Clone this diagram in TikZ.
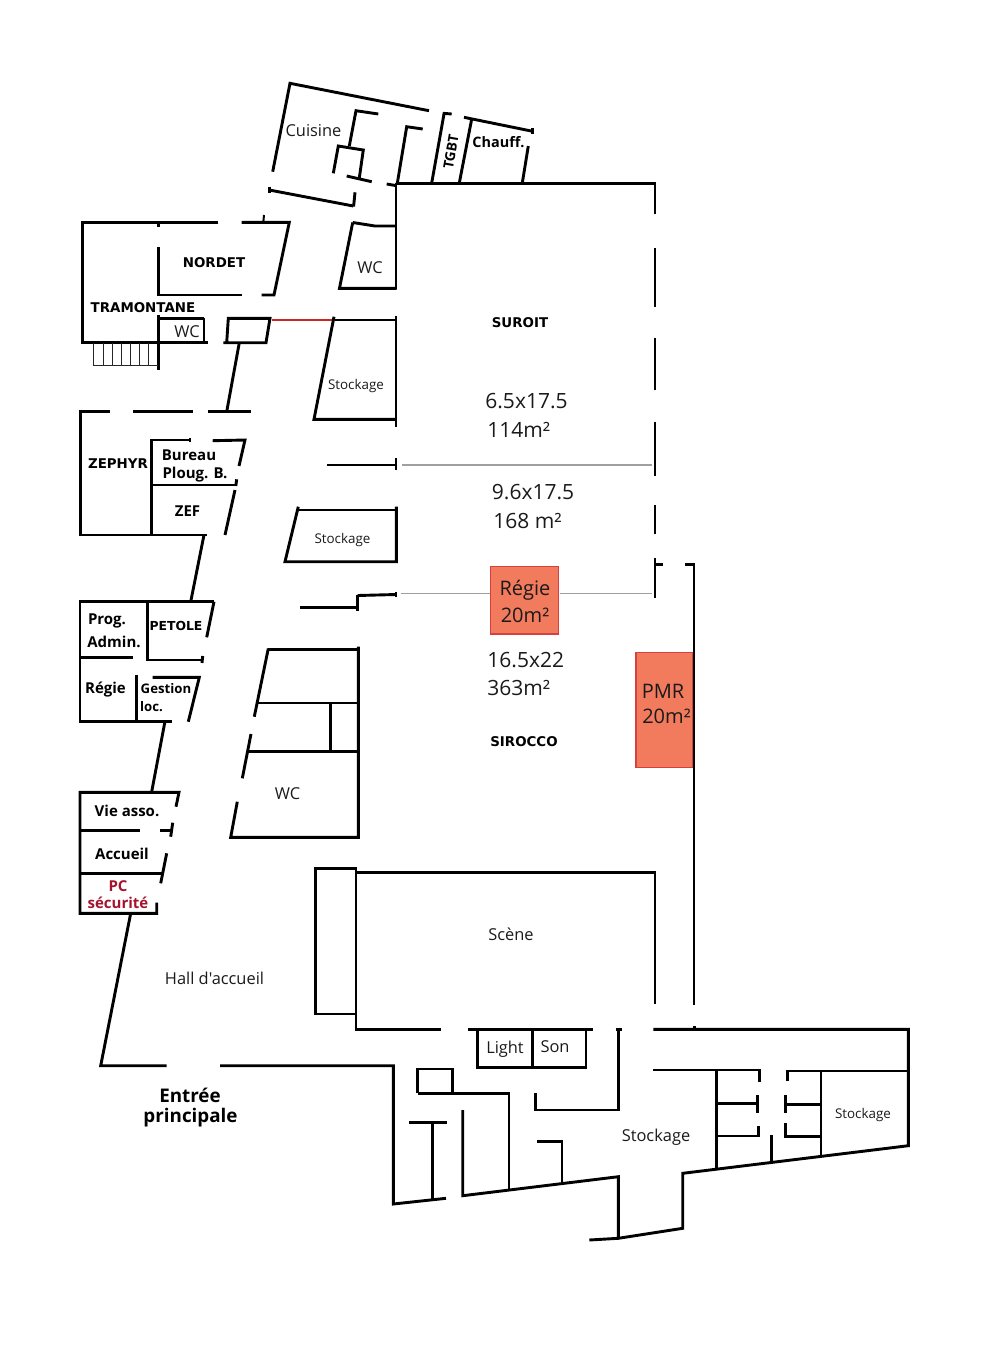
\documentclass[tikz,border=0pt]{standalone}
\usepackage{fontspec}
\setmainfont{Open Sans}
\newfontfamily\plainfont{Open Sans}
\newfontfamily\capsfont{DejaVu Sans}
\definecolor{salmon}{HTML}{F27B5E}
\definecolor{salmonedge}{HTML}{D8403F}
\definecolor{crimson}{HTML}{A5142E}
\definecolor{inkdark}{HTML}{1A1A1A}
\tikzset{
  wall/.style={line width=1.45pt,line cap=butt,line join=miter,black},
  thinwall/.style={line width=1pt,line cap=butt,line join=miter,black},
  hair/.style={line width=0.45pt,black!85},
  partition/.style={line width=0.55pt,gray!75},
  redline/.style={line width=0.7pt,color={rgb,255:red,200;green,40;blue,35}},
  lab/.style={inner sep=0pt,yshift=-0.5pt,text=inkdark,font=\fontsize{8.2}{10}\selectfont},
  bold/.style={inner sep=0pt,yshift=-0.5pt,text=black,font=\fontsize{7.5}{10}\selectfont\bfseries},
  caps/.style={inner sep=0pt,yshift=-0.5pt,text=black,font=\capsfont\fontsize{6.7}{8}\selectfont\bfseries},
  dim/.style={inner sep=0pt,yshift=-0.5pt,text=inkdark,font=\fontsize{10.5}{12}\selectfont},
  zonetext/.style={inner sep=0pt,yshift=-0.5pt,text=inkdark,font=\fontsize{10}{12}\selectfont},
  small/.style={inner sep=0pt,yshift=-0.5pt,text=inkdark,font=\fontsize{6.7}{8}\selectfont},
  zone/.style={draw=salmonedge,fill=salmon,line width=0.7pt}
}
\begin{document}
\begin{tikzpicture}[x=0.5pt,y=-0.5pt]
\useasboundingbox (0,0) rectangle (1000,1357);
% coloured zones
\fill[zone] (490.7,566.5) rectangle (558.3,634);
\fill[zone] (636,652.3) rectangle (692.7,767.7);
% grey partitions and red line
\draw[partition] (401.7,465) -- (651.7,465);
\draw[partition] (400.7,593.3) -- (490,593.3);
\draw[partition] (560,593.3) -- (651.7,593.3);
\draw[redline] (272.3,320) -- (335,320);
% Cuisine
\draw[wall] (272.7,171.7) -- (290,83.3) -- (429,110.7);
\draw[wall] (442.7,113.3) -- (451.7,114);
\draw[wall] (444,114) -- (431.7,183);
\draw[wall] (464,117.3) -- (532.7,131.3);
\draw[wall] (532.7,128) -- (532.7,134);
\draw[wall] (471.7,119) -- (459.3,183);
\draw[wall] (528.3,146) -- (522.3,183);
\draw[wall] (378.3,114) -- (356,110.7) -- (349.3,146);
\draw[wall] (333.3,173.3) -- (338.3,146) -- (363.3,150) -- (359.3,178);
\draw[wall] (346.7,176) -- (371.7,181.7);
\draw[wall] (422.7,129) -- (406.7,126.7) -- (397.3,183.3);
\draw[wall] (386.7,184) -- (396.7,185.7);
\draw[wall] (269.3,186.7) -- (269.3,193);
\draw[wall] (269.3,190) -- (353.3,206);
\draw[wall] (355,192.3) -- (353.6,206.5);
\draw[thinwall] (264,215) -- (263.3,222.3);
% Main hall outline
\draw[wall] (395.7,183.3) -- (655,183.3) -- (655,214);
\draw[thinwall] (396.3,183.3) -- (396.3,289);
\draw[wall] (655,248) -- (655,307);
\draw[wall] (655,338) -- (655,390);
\draw[wall] (655,421.7) -- (655,476);
\draw[wall] (655,505) -- (655,534);
\draw[wall] (655,558.3) -- (655,598.3);
\draw[wall] (655,564.3) -- (662.7,564.3);
\draw[wall] (685,564.3) -- (694,564.3) -- (694,1005);
% Nordet / Tramontane
\draw[wall] (218.3,222.3) -- (82.3,222.3) -- (82.3,342.7) -- (208.3,342.7);
\draw[wall] (241.7,222.3) -- (289.3,222.3) -- (274,295) -- (261.7,295);
\draw[wall] (241.7,295) -- (158.3,295) -- (158.3,246.7);
\draw[wall] (158.3,222.3) -- (158.3,227.3);
\draw[wall] (158.3,315) -- (158.3,370);
\draw[wall] (158.3,318.3) -- (204,318.3);
\draw[thinwall] (204,318.3) -- (204,342.7);
% stairs
\draw[hair] (93.3,342.7) -- (93.3,365.3) -- (158.3,365.3);
\foreach \sx in {103.3,112.7,121.7,130.7,139.3,148.3}{\draw[hair] (\sx,342.7) -- (\sx,365.3);}
% small box
\draw[wall] (223.3,342.7) -- (266,342.7) -- (270,318.3) -- (228.3,318.3) -- (226.7,342.7);
\draw[wall] (239.3,342.7) -- (226.7,411.7);
% WC north
\draw[wall] (352.7,222.5) -- (375,226) -- (396,226);
\draw[wall] (352.7,222.5) -- (339.5,288.3) -- (396.5,288.3);
% Stockage 1
\draw[wall] (335,320) -- (396,320);
\draw[wall] (334,316.7) -- (314,419.3) -- (396,419.3);
\draw[thinwall] (396.3,316) -- (396.3,427);
% Zephyr
\draw[wall] (110,411.7) -- (80.7,411.7) -- (80.7,535) -- (206.7,535);
\draw[wall] (133.3,411.7) -- (193.3,411.7);
\draw[wall] (208.3,411.7) -- (250.7,411.7);
\draw[wall] (190,440) -- (151.7,440) -- (151.7,535);
\draw[thinwall] (190,437.5) -- (190,441.5);
\draw[wall] (212.7,440.7) -- (245,440) -- (239,466);
\draw[wall] (151.7,485) -- (236,485);
\draw[wall] (236.7,479.3) -- (235.8,486);
\draw[wall] (235,490) -- (225,535);
\draw[wall] (204,535) -- (190.7,601.7);
% Prog block
\draw[wall] (214,601.7) -- (80,601.7) -- (80,721.3) -- (171.7,721.3);
\draw[wall] (214,601.7) -- (206.7,637.3);
\draw[wall] (147.3,601.7) -- (147.3,660) -- (203.3,660);
\draw[wall] (202.7,656) -- (202,663);
\draw[wall] (80,657.7) -- (133.3,657.7);
\draw[wall] (136.7,675) -- (136.7,721.3);
\draw[wall] (152.7,677.3) -- (199.3,677.3) -- (188.3,721.7);
\draw[wall] (165,721.3) -- (151.7,791.7);
% Vie asso block
\draw[wall] (176,806.7) -- (179,792.3) -- (80,792.3) -- (80,913.3) -- (156.7,913.3) -- (156.7,902.7);
\draw[wall] (80,830.7) -- (140,830.7);
\draw[wall] (160,830.7) -- (171.7,830.7);
\draw[wall] (172.7,822.7) -- (170.7,836.7);
\draw[wall] (80,873.3) -- (161.7,873.3);
\draw[wall] (166.7,853.3) -- (160.7,883.3);
% Hall
\draw[wall] (130.7,913.3) -- (100.7,1065.7) -- (166.7,1065.7);
\draw[wall] (220,1065.7) -- (393.3,1065.7) -- (393.3,1204) -- (446,1198.3);
% Central left blocks
\draw[wall] (327.3,465) -- (396,465);
\draw[thinwall] (396.3,458) -- (396.3,470);
\draw[wall] (298.3,506.7) -- (285,561.7) -- (396.3,561.7) -- (396.3,506.7);
\draw[wall] (297.6,510) -- (396,510);
\draw[wall] (300,607.7) -- (358,607.7);
\draw[wall] (357.7,595) -- (357.7,610.7);
\draw[wall] (357.7,595.5) -- (396,594.5);
\draw[thinwall] (396.3,592) -- (396.3,597);
% WC south block
\draw[wall] (268.3,649.3) -- (358.3,649.3);
\draw[wall] (358.3,646.7) -- (358.3,837.3) -- (230.7,837.3) -- (237.3,801.7);
\draw[wall] (268.3,648.5) -- (254.3,716.7);
\draw[thinwall] (258.3,703.3) -- (358.3,703.3);
\draw[wall] (330.7,703.3) -- (330.7,751.7);
\draw[wall] (249,751.7) -- (358.3,751.7);
\draw[wall] (251,734) -- (242.3,778.3);
% Stage
\draw[wall] (356,1014) -- (315.7,1014) -- (315.7,868.3) -- (356,868.3) -- (356,1029.3) -- (440.7,1029.3);
\draw[wall] (356,872.7) -- (655,872.7) -- (655,1004);
% south area
\draw[wall] (468.3,1029.3) -- (593.3,1029.3);
\draw[wall] (477.7,1029.3) -- (477.7,1067.7) -- (586,1067.7) -- (586,1029.3);
\draw[wall] (532.7,1029.3) -- (532.7,1067.7);
\draw[wall] (615.7,1029.3) -- (621.7,1029.3);
\draw[wall] (618.7,1029.3) -- (618.7,1110) -- (535.7,1110) -- (535.7,1093.3);
\draw[wall] (409.3,1122.7) -- (447.3,1122.7);
\draw[wall] (432.3,1122.7) -- (432.3,1199.3);
\draw[wall] (417.7,1093.3) -- (417.7,1069) -- (452.3,1069) -- (452.3,1093.3);
\draw[wall] (417.7,1093.3) -- (509,1093.3) -- (509,1189.3);
\draw[wall] (462.7,1110) -- (462.7,1195.7) -- (618.3,1176.7) -- (618.3,1238.3);
\draw[wall] (589.3,1240) -- (618.3,1238.3) -- (682.7,1228.3) -- (682.7,1173.3) -- (908.3,1145.7) -- (908.3,1029.3) -- (653.3,1029.3);
\draw[wall] (694.3,1026) -- (694.3,1029.3);
\draw[wall] (537.3,1141.7) -- (562,1141.7) -- (562,1183.3);
\draw[wall] (653.3,1070) -- (759.3,1070) -- (759.3,1081.7);
\draw[wall] (716.7,1070) -- (716.7,1168.3);
\draw[wall] (716.7,1103.7) -- (757.3,1103.7);
\draw[wall] (757.3,1095) -- (757.3,1113.3);
\draw[wall] (716.7,1136) -- (758.3,1136) -- (758.3,1125.7);
\draw[wall] (787.3,1081) -- (787.3,1071) -- (908.3,1071);
\draw[wall] (821,1071) -- (821,1155.7);
\draw[wall] (785.7,1095) -- (785.7,1113.3);
\draw[wall] (785.7,1104.7) -- (821,1104.7);
\draw[wall] (785.7,1123.3) -- (785.7,1136.7) -- (821,1136.7);
\draw[wall] (771.3,1135) -- (771.3,1162.7);
% labels
\node[lab] (cuisine) at (313.5,130) {Cuisine};
\node[bold,rotate=80,font=\fontsize{6.9}{8}\selectfont\bfseries] (tgbt) at (451,151) {TGBT};
\node[bold,font=\fontsize{7.2}{8}\selectfont\bfseries] (chauff) at (498.5,141) {Chauff.};
\node[lab] (wca) at (370,267) {WC};
\node[caps] (nordet) at (214,262) {NORDET};
\node[caps] (tramontane) at (143,307) {TRAMONTANE};
\node[lab] (wcb) at (187,331) {WC};
\node[caps] (suroit) at (520,322) {SUROIT};
\node[small] (stocka) at (356,385.5) {Stockage};
\node[dim,anchor=west] (dima) at (485,400.5) {6.5x17.5};
\node[dim,anchor=west] (dimb) at (487,429) {114m²};
\node[dim,anchor=west] (dimc) at (491.5,491.5) {9.6x17.5};
\node[dim,anchor=west] (dimd) at (493,520) {168 m²};
\node[caps] (zephyr) at (118,463) {ZEPHYR};
\node[bold] (bureau) at (189,454) {Bureau};
\node[bold] (ploug) at (195,474) {Ploug. B.};
\node[bold] (zef) at (187.5,510.5) {ZEF};
\node[small] (stockb) at (342.5,539) {Stockage};
\node[zonetext] (regie) at (525,589) {Régie};
\node[zonetext] (regiearea) at (525,614) {20m²};
\node[bold] (prog) at (107,620) {Prog.};
\node[bold] (admin) at (114,641) {Admin.};
\node[bold,font=\capsfont\fontsize{6.2}{8}\selectfont\bfseries] (petole) at (176,624.5) {PETOLE};
\node[bold] (regieb) at (105.5,689) {Régie};
\node[bold,font=\fontsize{6.6}{8}\selectfont\bfseries] (gestion) at (166,688) {Gestion};
\node[bold,font=\fontsize{6.6}{8}\selectfont\bfseries] (loc) at (151.5,706) {loc.};
\node[dim,anchor=west] (dime) at (487,659) {16.5x22};
\node[dim,anchor=west] (dimf) at (487,687) {363m²};
\node[caps] (sirocco) at (524,740.5) {SIROCCO};
\node[zonetext] (pmr) at (663,690) {PMR};
\node[zonetext] (pmrarea) at (666.5,715) {20m²};
\node[bold] (vie) at (127,810) {Vie asso.};
\node[bold] (accueil) at (122,852.5) {Accueil};
\node[bold,text=crimson] (pc) at (118,885) {PC};
\node[bold,text=crimson] (securite) at (118,902) {sécurité};
\node[lab] (wcc) at (287.5,792.5) {WC};
\node[lab] (scene) at (511,933) {Scène};
\node[lab] (hall) at (214.5,977.5) {\plainfont Hall d'accueil};
\node[bold,font=\fontsize{9.4}{11}\selectfont\bfseries] (entree) at (190,1094.5) {Entrée};
\node[bold,font=\fontsize{9.4}{11}\selectfont\bfseries] (principale) at (190.5,1117) {principale};
\node[lab] (light) at (505,1048) {Light};
\node[lab] (son) at (555,1045.5) {Son};
\node[lab] (stockc) at (656,1136.5) {Stockage};
\node[small] (stockd) at (863,1114) {Stockage};
\end{tikzpicture}
\end{document}
